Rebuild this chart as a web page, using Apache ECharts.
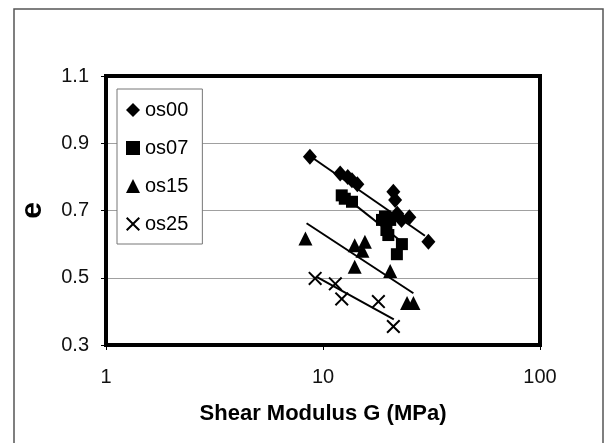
<!DOCTYPE html>
<html>
<head>
<meta charset="utf-8">
<script src="https://cdn.jsdelivr.net/npm/echarts@6/dist/echarts.min.js"></script>
<style>
  html, body { margin: 0; padding: 0; background: #fff; }
  #chart { width: 611px; height: 443px; }
</style>
</head>
<body>
<div id="chart"></div>
<script>
// measured points: shear modulus G (MPa) vs void ratio e
const seriesNames = ["os00", "os07", "os15", "os25"];

const os00G = [8.7, 12.0, 13.0, 13.6, 14.4, 21.1, 21.5, 22.0, 23.0, 25.0, 30.6];
const os00E = [0.860, 0.810, 0.800, 0.790, 0.778, 0.756, 0.731, 0.690, 0.672, 0.680, 0.607];

const os07G = [12.2, 12.6, 13.6, 18.7, 19.3, 20.4, 19.6, 20.0, 23.1, 21.9];
const os07E = [0.745, 0.735, 0.726, 0.672, 0.682, 0.672, 0.642, 0.627, 0.600, 0.570];

const os15G = [8.3, 14.0, 15.6, 15.2, 14.0, 20.4, 24.4, 26.1];
const os15E = [0.617, 0.597, 0.607, 0.580, 0.533, 0.520, 0.425, 0.425];

const os25G = [9.2, 11.4, 12.2, 18.0, 21.1];
const os25E = [0.498, 0.482, 0.437, 0.429, 0.355];

// trend line end points as drawn in the figure
const os00FitG = [8.7, 29.5];
const os00FitE = [0.862, 0.625];
const os07FitG = [12.2, 22.5];
const os07FitE = [0.748, 0.612];
const os15FitG = [8.4, 26.1];
const os15FitE = [0.662, 0.454];
const os25FitG = [9.3, 21.2];
const os25FitE = [0.503, 0.376];

const yTicks = [0.3, 0.5, 0.7, 0.9, 1.1];
const xTicks = [1, 10, 100];

const FONT = "Liberation Sans, Arial, sans-serif";
const crossPath =
  "path://M0,1 L1,0 L5,4 L9,0 L10,1 L6,5 L10,9 L9,10 L5,6 L1,10 L0,9 L4,5 Z";

const zip = (xs, ys) => xs.map((x, i) => [x, ys[i]]);

const points = [
  { name: seriesNames[0], data: zip(os00G, os00E), symbol: "diamond", size: [14, 16] },
  { name: seriesNames[1], data: zip(os07G, os07E), symbol: "rect", size: 12 },
  { name: seriesNames[2], data: zip(os15G, os15E), symbol: "triangle", size: 14 },
  { name: seriesNames[3], data: zip(os25G, os25E), symbol: crossPath, size: 14 },
];

const fits = [
  zip(os00FitG, os00FitE),
  zip(os07FitG, os07FitE),
  zip(os15FitG, os15FitE),
  zip(os25FitG, os25FitE),
];

const chart = echarts.init(document.getElementById("chart"), null, { renderer: "canvas" });

const options = {
  backgroundColor: "#fff",
  animation: false,
  textStyle: { fontFamily: FONT },
  graphic: [
    {
      type: "rect",
      silent: true,
      z: -10,
      shape: { x: 14, y: 9, width: 589, height: 450 },
      style: { fill: "none", stroke: "#555", lineWidth: 1.5 },
    },
  ],
  grid: {
    left: 106,
    right: 71,
    top: 76,
    bottom: 98,
    show: true,
    borderColor: "#000",
    borderWidth: 4,
    backgroundColor: "transparent",
    z: 5,
  },
  legend: {
    data: seriesNames,
    orient: "vertical",
    left: 117,
    top: 89,
    padding: [11, 14, 10, 9],
    itemGap: 18,
    itemWidth: 14,
    itemHeight: 14,
    borderColor: "#777",
    borderWidth: 1,
    backgroundColor: "#fff",
    textStyle: { fontFamily: FONT, fontSize: 20, lineHeight: 20, color: "#000" },
  },
  xAxis: {
    type: "log",
    logBase: 10,
    min: 1,
    max: 100,
    name: "Shear Modulus G (MPa)",
    nameLocation: "middle",
    nameGap: 58,
    nameTextStyle: { fontFamily: FONT, fontSize: 22, fontWeight: "bold", color: "#000" },
    axisLine: { lineStyle: { color: "#000", width: 2 } },
    axisTick: { show: true, inside: false, length: 5, lineStyle: { color: "#000", width: 1 } },
    minorTick: { show: false },
    splitLine: { show: false },
    axisLabel: {
      margin: 22,
      fontSize: 20,
      color: "#111",
      fontFamily: FONT,
      formatter: (v) => (xTicks.includes(Math.round(v)) ? String(Math.round(v)) : ""),
    },
  },
  yAxis: {
    type: "value",
    min: yTicks[0],
    max: yTicks[yTicks.length - 1],
    interval: 0.2,
    name: "e",
    nameLocation: "middle",
    nameRotate: 90,
    nameGap: 58,
    nameTextStyle: { fontFamily: FONT, fontSize: 30, fontWeight: "bold", color: "#000" },
    axisLine: { show: true, lineStyle: { color: "#000", width: 2 } },
    axisTick: { show: true, inside: false, length: 5, lineStyle: { color: "#000", width: 1 } },
    splitLine: { show: true, lineStyle: { color: "#a0a0a0", width: 1.2 } },
    axisLabel: {
      margin: 17,
      fontSize: 20,
      color: "#111",
      fontFamily: FONT,
      formatter: (v) => v.toFixed(1),
    },
  },
  series: [
    ...fits.map((d) => ({
      type: "line",
      data: d,
      showSymbol: false,
      silent: true,
      z: 3,
      lineStyle: { color: "#000", width: 2 },
    })),
    ...points.map((p) => ({
      type: "scatter",
      name: p.name,
      data: p.data,
      symbol: p.symbol,
      symbolSize: p.size,
      z: 4,
      itemStyle: { color: "#000", opacity: 1 },
    })),
  ],
};

chart.setOption(options);
</script>
</body>
</html>
